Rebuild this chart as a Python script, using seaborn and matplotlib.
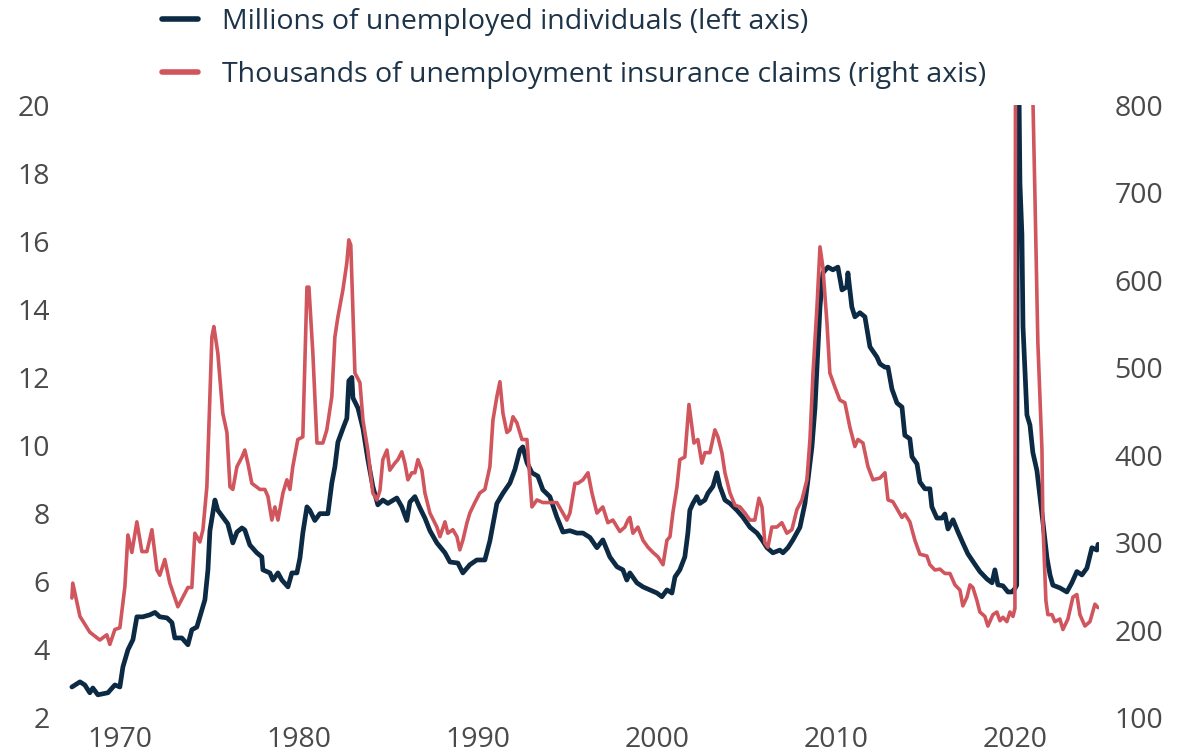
import numpy as np
import pandas as pd
import matplotlib
matplotlib.use("Agg")
import matplotlib.pyplot as plt
import seaborn as sns

# Colours
NAVY = '#0c2a43'
RED = '#d0555d'
TICK_GREY = '#4a4a4a'
LEGEND_TEXT = '#1d3347'

# Millions of unemployed individuals (left axis)
unemp_year = [
    1967.32, 1967.77, 1968.04, 1968.32, 1968.49, 1968.77, 1969.33, 1969.72,
    1970.00, 1970.17, 1970.45, 1970.73, 1970.95, 1971.28, 1971.68, 1971.96,
    1972.23, 1972.63, 1972.91, 1973.07, 1973.46, 1973.80, 1974.02, 1974.30,
    1974.47, 1974.75, 1974.92, 1975.03, 1975.31, 1975.47, 1975.75, 1976.03,
    1976.31, 1976.54, 1976.82, 1976.98, 1977.26, 1977.65, 1977.93, 1977.99,
    1978.38, 1978.55, 1978.83, 1979.05, 1979.39, 1979.61, 1979.89, 1980.06,
    1980.22, 1980.45, 1980.61, 1980.89, 1981.17, 1981.45, 1981.62, 1981.84,
    1982.01, 1982.18, 1982.46, 1982.68, 1982.79, 1982.96, 1983.02, 1983.30,
    1983.58, 1983.85, 1984.13, 1984.41, 1984.69, 1984.97, 1985.47, 1985.75,
    1986.03, 1986.20, 1986.48, 1986.76, 1987.04, 1987.32, 1987.71, 1988.16,
    1988.44, 1988.88, 1989.16, 1989.55, 1989.94, 1990.39, 1990.67, 1991.06,
    1991.40, 1991.79, 1992.07, 1992.35, 1992.51, 1992.74, 1993.02, 1993.35,
    1993.63, 1994.02, 1994.41, 1994.75, 1995.14, 1995.53, 1995.87, 1996.26,
    1996.65, 1996.98, 1997.37, 1997.77, 1998.10, 1998.32, 1998.49, 1998.88,
    1999.22, 1999.61, 2000.00, 2000.28, 2000.56, 2000.84, 2001.01, 2001.28,
    2001.56, 2001.73, 2001.84, 2002.01, 2002.23, 2002.40, 2002.68, 2002.85,
    2003.13, 2003.35, 2003.52, 2003.80, 2004.08, 2004.47, 2004.80, 2005.20,
    2005.59, 2005.87, 2006.15, 2006.48, 2006.87, 2007.04, 2007.32, 2007.60,
    2007.99, 2008.27, 2008.44, 2008.66, 2008.83, 2008.99, 2009.11, 2009.27,
    2009.55, 2009.83, 2010.11, 2010.34, 2010.61, 2010.67, 2010.89, 2011.06,
    2011.34, 2011.62, 2011.90, 2012.29, 2012.46, 2012.74, 2012.91, 2013.13,
    2013.41, 2013.69, 2013.85, 2014.13, 2014.25, 2014.53, 2014.69, 2014.97,
    2015.25, 2015.36, 2015.64, 2015.92, 2016.09, 2016.26, 2016.54, 2016.82,
    2017.09, 2017.37, 2017.65, 2018.04, 2018.44, 2018.72, 2018.88, 2019.05,
    2019.33, 2019.61, 2019.83, 2020.00, 2020.10, 2020.15, 2020.22, 2020.28,
    2020.39, 2020.45, 2020.67, 2020.84, 2021.00, 2021.23, 2021.40, 2021.56,
    2021.79, 2021.96, 2022.12, 2022.51, 2022.90, 2023.18, 2023.46, 2023.74,
    2024.02, 2024.30, 2024.58, 2024.64,
]
unemp_millions = [
    2.91, 3.06, 2.97, 2.74, 2.88, 2.68, 2.74, 2.97,
    2.91, 3.5, 4.0, 4.3, 4.97, 4.97, 5.03, 5.1,
    4.97, 4.94, 4.8, 4.35, 4.35, 4.15, 4.59, 4.67,
    4.97, 5.47, 6.35, 7.5, 8.4, 8.1, 7.9, 7.7,
    7.14, 7.46, 7.58, 7.52, 7.08, 6.85, 6.73, 6.35,
    6.26, 6.05, 6.26, 6.05, 5.85, 6.26, 6.26, 6.7,
    7.43, 8.2, 8.1, 7.8, 8.0, 8.0, 8.0, 8.9,
    9.37, 10.1, 10.5, 10.8, 11.9, 12.0, 11.4, 11.1,
    10.5, 9.6, 8.8, 8.26, 8.4, 8.3, 8.46, 8.2,
    7.8, 8.34, 8.5, 8.17, 7.87, 7.5, 7.14, 6.85,
    6.58, 6.55, 6.26, 6.5, 6.64, 6.64, 7.2, 8.3,
    8.6, 8.9, 9.3, 9.87, 9.96, 9.5, 9.2, 9.1,
    8.7, 8.5, 7.9, 7.46, 7.5, 7.43, 7.43, 7.3,
    7.0, 7.23, 6.73, 6.44, 6.35, 6.05, 6.26, 5.97,
    5.85, 5.76, 5.67, 5.56, 5.76, 5.67, 6.14, 6.35,
    6.73, 7.43, 8.1, 8.3, 8.5, 8.3, 8.4, 8.6,
    8.8, 9.2, 8.8, 8.4, 8.3, 8.1, 7.9, 7.6,
    7.43, 7.23, 7.0, 6.85, 6.93, 6.85, 7.0, 7.23,
    7.6, 8.3, 9.0, 9.96, 11.1, 12.8, 14.07, 15.07,
    15.24, 15.16, 15.24, 14.57, 14.66, 15.07, 14.07, 13.78,
    13.9, 13.78, 12.9, 12.6, 12.4, 12.3, 12.3, 11.66,
    11.25, 11.13, 10.3, 10.2, 9.67, 9.46, 8.93, 8.73,
    8.73, 8.2, 7.87, 7.87, 7.99, 7.55, 7.82, 7.46,
    7.14, 6.82, 6.6, 6.3, 6.08, 5.97, 6.35, 5.91,
    5.88, 5.7, 5.7, 5.8, 5.9, 23.0, 20.8, 17.7,
    16.2, 13.5, 10.9, 10.6, 9.8, 9.26, 8.5, 7.77,
    6.7, 6.2, 5.9, 5.82, 5.7, 5.97, 6.3, 6.2,
    6.4, 7.0, 6.93, 7.1,
]

# Thousands of unemployment insurance claims (right axis)
claims_year = [
    1967.32, 1967.37, 1967.77, 1968.32, 1968.88, 1969.27, 1969.44, 1969.72,
    1970.00, 1970.28, 1970.45, 1970.67, 1970.95, 1971.23, 1971.51, 1971.79,
    1972.07, 1972.23, 1972.51, 1972.79, 1973.24, 1973.52, 1973.80, 1974.02,
    1974.19, 1974.47, 1974.64, 1974.86, 1975.14, 1975.25, 1975.47, 1975.75,
    1975.98, 1976.15, 1976.31, 1976.54, 1976.82, 1976.98, 1977.15, 1977.37,
    1977.82, 1978.10, 1978.27, 1978.49, 1978.66, 1978.83, 1979.11, 1979.33,
    1979.50, 1979.66, 1979.94, 1980.22, 1980.45, 1980.56, 1980.78, 1981.01,
    1981.34, 1981.56, 1981.84, 1982.01, 1982.18, 1982.46, 1982.68, 1982.79,
    1982.90, 1983.13, 1983.41, 1983.58, 1983.85, 1984.13, 1984.36, 1984.53,
    1984.69, 1984.92, 1985.08, 1985.36, 1985.53, 1985.75, 1985.92, 1986.09,
    1986.31, 1986.48, 1986.65, 1986.87, 1987.04, 1987.32, 1987.71, 1987.88,
    1988.16, 1988.32, 1988.60, 1988.83, 1988.99, 1989.16, 1989.39, 1989.55,
    1989.83, 1990.11, 1990.39, 1990.67, 1990.84, 1991.06, 1991.23, 1991.40,
    1991.62, 1991.79, 1991.96, 1992.18, 1992.46, 1992.74, 1993.02, 1993.30,
    1993.63, 1994.02, 1994.41, 1994.75, 1994.97, 1995.14, 1995.42, 1995.59,
    1995.87, 1996.15, 1996.37, 1996.65, 1996.98, 1997.26, 1997.54, 1997.93,
    1998.21, 1998.38, 1998.49, 1998.66, 1998.94, 1999.22, 1999.50, 1999.78,
    2000.06, 2000.34, 2000.56, 2000.73, 2000.89, 2001.12, 2001.28, 2001.56,
    2001.79, 2001.96, 2002.07, 2002.29, 2002.51, 2002.68, 2002.96, 2003.24,
    2003.41, 2003.63, 2003.80, 2004.08, 2004.36, 2004.64, 2004.92, 2005.20,
    2005.47, 2005.70, 2005.87, 2006.03, 2006.20, 2006.42, 2006.70, 2006.98,
    2007.26, 2007.54, 2007.82, 2008.10, 2008.38, 2008.55, 2008.72, 2008.94,
    2009.11, 2009.27, 2009.50, 2009.66, 2009.94, 2010.22, 2010.50, 2010.78,
    2011.06, 2011.23, 2011.51, 2011.79, 2012.07, 2012.46, 2012.74, 2012.91,
    2013.18, 2013.46, 2013.69, 2013.85, 2014.13, 2014.41, 2014.69, 2015.08,
    2015.25, 2015.53, 2015.81, 2016.09, 2016.37, 2016.65, 2016.93, 2017.09,
    2017.32, 2017.49, 2017.65, 2017.88, 2018.04, 2018.32, 2018.49, 2018.77,
    2018.99, 2019.16, 2019.33, 2019.55, 2019.72, 2019.89, 2020.00, 2020.08,
    2020.28, 2020.60, 2020.95, 2021.12, 2021.28, 2021.51, 2021.56, 2021.73,
    2021.84, 2022.07, 2022.23, 2022.51, 2022.68, 2022.96, 2023.24, 2023.46,
    2023.63, 2023.91, 2024.19, 2024.47, 2024.64,
]
claims_thousands = [
    237, 254, 216, 198, 189, 195, 184, 201,
    203, 250, 309, 289, 324, 290, 290, 315,
    269, 263, 281, 254, 227, 238, 249, 249,
    311, 301, 315, 364, 535, 547, 517, 448,
    426, 364, 361, 387, 398, 406, 391, 368,
    361, 361, 353, 326, 341, 326, 357, 372,
    361, 387, 418, 421, 592, 592, 517, 414,
    414, 429, 467, 535, 558, 589, 620, 646,
    640, 494, 483, 440, 406, 357, 349, 360,
    395, 406, 383, 391, 395, 404, 391, 372,
    380, 380, 395, 383, 357, 334, 318, 307,
    324, 311, 315, 307, 292, 303, 323, 334,
    346, 357, 361, 387, 440, 467, 484, 448,
    426, 429, 444, 437, 418, 418, 341, 349,
    346, 346, 346, 334, 326, 334, 368, 368,
    372, 380, 357, 334, 341, 323, 326, 313,
    318, 326, 329, 311, 318, 303, 295, 289,
    284, 275, 303, 307, 334, 364, 395, 398,
    458, 432, 414, 418, 391, 403, 403, 429,
    421, 403, 380, 357, 343, 341, 334, 326,
    326, 351, 341, 300, 295, 318, 318, 323,
    311, 315, 338, 349, 372, 418, 494, 569,
    638, 615, 551, 494, 478, 463, 460, 432,
    410, 418, 414, 387, 372, 374, 380, 349,
    347, 337, 329, 333, 324, 303, 287, 285,
    275, 269, 270, 265, 265, 252, 246, 228,
    238, 252, 249, 234, 221, 216, 205, 218,
    221, 211, 215, 210, 221, 216, 225, 1800,
    5500, 1400, 860, 694, 529, 406, 324, 234,
    218, 218, 210, 213, 201, 213, 238, 241,
    218, 205, 210, 230, 226,
]

x_ticks = [1970, 1980, 1990, 2000, 2010, 2020]
left_ticks = [2, 4, 6, 8, 10, 12, 14, 16, 18, 20]
right_ticks = [100, 200, 300, 400, 500, 600, 700, 800]

unemp = pd.DataFrame({'year': unemp_year, 'value': unemp_millions})
claims = pd.DataFrame({'year': claims_year, 'value': claims_thousands})

sns.set_style('white')
plt.rcParams['font.family'] = ['Open Sans', 'DejaVu Sans']

fig = plt.figure(figsize=(11.86, 7.56), dpi=100)
ax = fig.add_axes([0.0573, 0.0503, 0.8694, 0.8108])
ax2 = ax.twinx()

sns.lineplot(data=unemp, x='year', y='value', ax=ax, color=NAVY,
             linewidth=3.4, label='Millions of unemployed individuals (left axis)',
             legend=False)
sns.lineplot(data=claims, x='year', y='value', ax=ax2, color=RED,
             linewidth=2.6, label='Thousands of unemployment insurance claims (right axis)',
             legend=False)

ax.set_xlim(1967.1, 2024.7)
ax.set_ylim(2, 20)
ax2.set_ylim(100, 800)
ax.set_xticks(x_ticks)
ax.set_yticks(left_ticks)
ax2.set_yticks(right_ticks)
ax.set_xlabel('')
ax.set_ylabel('')
ax2.set_ylabel('')

for a in (ax, ax2):
    for s in a.spines.values():
        s.set_visible(False)
    a.grid(False)
    a.tick_params(length=0, labelsize=20.5, labelcolor=TICK_GREY)
ax.tick_params(axis='y', pad=13)
ax.tick_params(axis='x', pad=6)
ax2.tick_params(axis='y', pad=11)

handles = ax.get_lines()[:1] + ax2.get_lines()[:1]
labels = [h.get_label() for h in handles]
leg = fig.legend(handles, labels, loc='upper left', bbox_to_anchor=(0.127, 1.004),
                 frameon=False, fontsize=20.5, handlelength=1.25, handletextpad=0.85,
                 labelspacing=0.85, borderaxespad=0)
for t in leg.get_texts():
    t.set_color(LEGEND_TEXT)
for h in leg.legend_handles:
    h.set_linewidth(4)

fig.savefig('out.png', dpi=100)
